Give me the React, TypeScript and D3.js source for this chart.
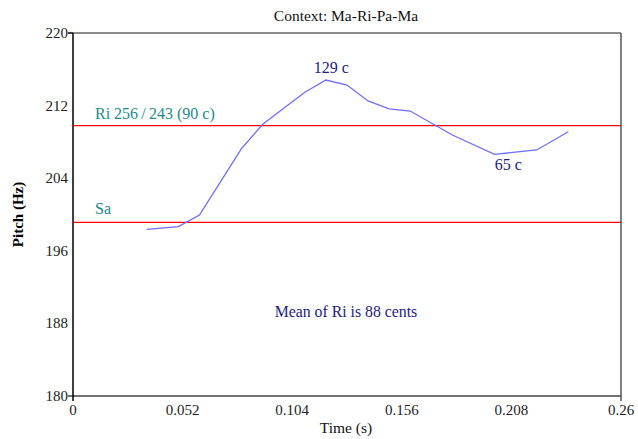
import React, { useRef, useEffect } from "react";
import * as d3 from "d3";

const times = [0.035, 0.05, 0.06, 0.08, 0.09, 0.11, 0.12, 0.13, 0.14, 0.15, 0.16, 0.18, 0.2, 0.22, 0.235];
const pitches = [198.37, 198.66, 199.94, 207.29, 209.94, 213.47, 214.82, 214.27, 212.51, 211.63, 211.4, 208.76, 206.63, 207.11, 209.12];
const xTicks = [0, 0.052, 0.104, 0.156, 0.208, 0.26];
const yTicks = [180, 188, 196, 204, 212, 220];
const saHz = 199.14;
const riHz = saHz * 256 / 243;

const App = () => {
  const chartRef = useRef<SVGSVGElement | null>(null);

  useEffect(() => {
    if (!chartRef.current) return;
    const width = 638, height = 439;
    const margin = { top: 33, right: 17, bottom: 43, left: 73 };
    const svg = d3.select(chartRef.current);
    svg.selectAll("*").remove();
    svg.attr("width", width).attr("height", height);

    const font = "'Liberation Serif', 'Times New Roman', serif";
    const x = d3.scaleLinear().domain([0, 0.26]).range([margin.left, width - margin.right]);
    const y = d3.scaleLinear().domain([180, 220]).range([height - margin.bottom, margin.top]);

    // frame: top and right grey, left and bottom black
    svg.append("line").attr("x1", x(0)).attr("x2", x(0.26)).attr("y1", y(220)).attr("y2", y(220))
      .attr("stroke", "#666").attr("stroke-width", 1.5);
    svg.append("line").attr("x1", x(0.26)).attr("x2", x(0.26)).attr("y1", y(220)).attr("y2", y(180) + 5)
      .attr("stroke", "#555").attr("stroke-width", 1.5);
    svg.append("line").attr("x1", x(0) - 5).attr("x2", x(0.26)).attr("y1", y(180)).attr("y2", y(180))
      .attr("stroke", "#444").attr("stroke-width", 1.5);
    svg.append("line").attr("x1", x(0)).attr("x2", x(0)).attr("y1", y(220)).attr("y2", y(180) + 5)
      .attr("stroke", "#000").attr("stroke-width", 1.5);
    svg.append("line").attr("x1", x(0) - 5).attr("x2", x(0)).attr("y1", y(220)).attr("y2", y(220))
      .attr("stroke", "#000").attr("stroke-width", 1.5);

    // tick labels
    svg.append("g").selectAll("text").data(yTicks).enter().append("text")
      .attr("x", x(0) - 5).attr("y", d => y(d) + 5)
      .attr("text-anchor", "end").attr("font-family", font).attr("font-size", 15).attr("fill", "#222")
      .text(d => d);
    svg.append("g").selectAll("text").data(xTicks).enter().append("text")
      .attr("x", d => x(d)).attr("y", y(180) + 19)
      .attr("text-anchor", "middle").attr("font-family", font).attr("font-size", 15).attr("fill", "#222")
      .text(d => d);

    // reference lines
    [saHz, riHz].forEach(v => {
      svg.append("line").attr("x1", x(0)).attr("x2", x(0.26)).attr("y1", y(v)).attr("y2", y(v))
        .attr("stroke", "#ff0000").attr("stroke-width", 1.2);
    });
    svg.append("text").attr("x", 95).attr("y", y(riHz) - 7).attr("font-family", font).attr("font-size", 16)
      .attr("fill", "#238a8a").text("Ri 256\u2009/\u2009243 (90 c)");
    svg.append("text").attr("x", 95).attr("y", y(saHz) - 8).attr("font-family", font).attr("font-size", 16)
      .attr("fill", "#238a8a").text("Sa");

    // pitch contour
    const line = d3.line<number>().x((d, i) => x(times[i])).y(d => y(d));
    svg.append("path").datum(pitches).attr("d", line).attr("fill", "none")
      .attr("stroke", "#6e6eff").attr("stroke-width", 1.3);

    // annotations
    const ann = "#1c1c80";
    svg.append("text").attr("x", x(0.1225)).attr("y", 73).attr("text-anchor", "middle")
      .attr("font-family", font).attr("font-size", 16).attr("fill", ann).text("129 c");
    svg.append("text").attr("x", x(0.2065)).attr("y", 170).attr("text-anchor", "middle")
      .attr("font-family", font).attr("font-size", 16).attr("fill", ann).text("65 c");
    svg.append("text").attr("x", x(0.1295)).attr("y", 317).attr("text-anchor", "middle")
      .attr("font-family", font).attr("font-size", 15.8).attr("fill", ann).text("Mean of Ri is 88 cents");

    // titles
    svg.append("text").attr("x", x(0.1295)).attr("y", 21).attr("text-anchor", "middle")
      .attr("font-family", font).attr("font-size", 15.5).attr("fill", "#111").text("Context: Ma-Ri-Pa-Ma");
    svg.append("text").attr("x", x(0.1295)).attr("y", 433).attr("text-anchor", "middle")
      .attr("font-family", font).attr("font-size", 15.5).attr("fill", "#111").text("Time (s)");
    svg.append("text").attr("transform", `translate(23,${y(200)}) rotate(-90)`).attr("text-anchor", "middle")
      .attr("font-family", font).attr("font-size", 15).attr("font-weight", "bold").attr("fill", "#000")
      .text("Pitch (Hz)");
  }, []);

  return <svg ref={chartRef} style={{ position: "absolute", left: 0, top: 0 }}></svg>;
};

export default App;
